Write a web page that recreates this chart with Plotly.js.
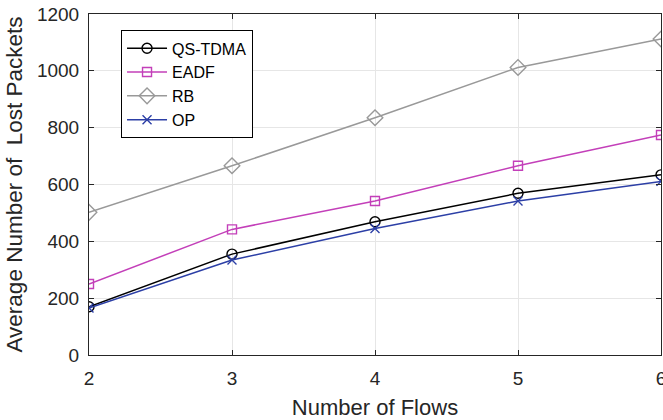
<!DOCTYPE html>
<html>
<head>
<meta charset="utf-8">
<script src="https://cdn.plot.ly/plotly-3.0.1.min.js"></script>
<style>html,body{margin:0;padding:0;background:#fff;}#chart{width:663px;height:420px;}</style>
</head>
<body>
<div id="chart"></div>
<script>
const flows = [2, 3, 4, 5, 6];
const xTickLabels = ['2', '3', '4', '5', '6'];
const qsTdma = [170, 355, 469, 569, 634];
const eadf = [250, 442, 542, 666, 774];
const rb = [502, 666, 835, 1012, 1112];
const op = [165, 334, 445, 542, 611];

const seriesNames = ['QS-TDMA', 'EADF', 'RB', 'OP'];
const fontFam = 'Liberation Sans, Arial, Helvetica, sans-serif';

function tr(name, y, color, symbol, size) {
  return {
    x: flows, y: y, name: name, type: 'scatter', mode: 'lines+markers',
    line: {color: color, width: 1.5},
    marker: {symbol: symbol, size: size, color: color, line: {color: color, width: 1.4}}
  };
}

const data = [
  tr(seriesNames[0], qsTdma, '#000000', 'circle-open', 10),
  tr(seriesNames[1], eadf, '#c33fb9', 'square-open', 9),
  tr(seriesNames[2], rb, '#999999', 'diamond-open', 12),
  tr(seriesNames[3], op, '#2c3fa6', 'x-thin-open', 9)
];

const layout = {
  width: 663, height: 420,
  margin: {l: 89, r: 2, t: 14, b: 65},
  paper_bgcolor: '#ffffff', plot_bgcolor: '#ffffff',
  font: {family: fontFam, color: '#262626', size: 18},
  showlegend: true,
  legend: {
    x: 0.056, y: 0.952, xanchor: 'left', yanchor: 'top',
    bgcolor: '#ffffff', bordercolor: '#000000', borderwidth: 1,
    font: {family: fontFam, size: 16, color: '#000000'},
    itemwidth: 40, tracegroupgap: 0
  },
  xaxis: {
    range: [2, 6], tickmode: 'array', tickvals: flows, ticktext: xTickLabels,
    showline: true, mirror: 'ticks', linecolor: '#262626', linewidth: 1,
    ticks: 'inside', ticklen: 5, tickcolor: '#262626', ticklabelstandoff: 6,
    ticklabeloverflow: 'allow',
    showgrid: true, gridcolor: '#e6e6e6', zeroline: false,
    tickfont: {size: 19, color: '#262626'},
    title: {text: 'Number of Flows', font: {size: 22, color: '#262626'}, standoff: 14}
  },
  yaxis: {
    range: [0, 1200], dtick: 200,
    showline: true, mirror: 'ticks', linecolor: '#262626', linewidth: 1,
    ticks: 'inside', ticklen: 5, tickcolor: '#262626', ticklabelstandoff: 5,
    showgrid: true, gridcolor: '#e6e6e6', zeroline: false,
    tickfont: {size: 19, color: '#262626'},
    title: {text: 'Average Number of\u00a0 Lost Packets', font: {size: 22.5, color: '#262626'}, standoff: 8}
  }
};

Plotly.newPlot('chart', data, layout, {displayModeBar: false, staticPlot: true});
</script>
</body>
</html>
